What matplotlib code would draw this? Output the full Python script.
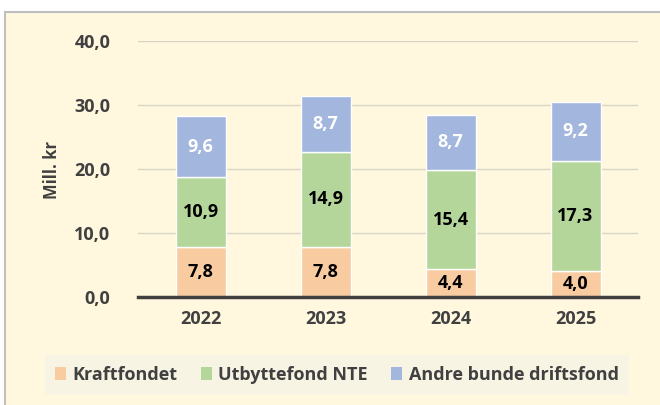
import numpy as np
import matplotlib.pyplot as plt
from matplotlib.patches import Rectangle, Patch

# data
years = ['2022', '2023', '2024', '2025']
kraftfondet = [7.8, 7.8, 4.4, 4.0]
utbytte_nte = [10.9, 14.9, 15.4, 17.3]
andre_fond = [9.6, 8.7, 8.7, 9.2]
series_names = ['Kraftfondet', 'Utbyttefond NTE', 'Andre bunde driftsfond']
yticks = [0, 10, 20, 30, 40]

col_orange = '#F8CBA0'
col_green = '#B5D69A'
col_blue = '#A3B6DE'
txt_col = '#404040'

plt.rcParams['font.family'] = ['Open Sans', 'DejaVu Sans']

fig = plt.figure(figsize=(6.6, 4.05), dpi=100)
fig.patch.set_facecolor('white')

# chart area background with grey border on top and left
bg = Rectangle((5 / 660, -0.1), 1.2, 0.1 + 1 - 12 / 405, transform=fig.transFigure,
               facecolor='#FFF8DE', edgecolor='#BFBFBF', lw=1.5, zorder=-10)
fig.patches.append(bg)

ax = fig.add_axes([138 / 660, 1 - 297 / 405, 500 / 660, 256 / 405])
ax.set_facecolor('none')

x = np.arange(len(years))
w = 0.4
b1 = ax.bar(x, kraftfondet, w, color=col_orange, edgecolor='white', lw=1, zorder=3)
bottom2 = np.array(kraftfondet)
b2 = ax.bar(x, utbytte_nte, w, bottom=bottom2, color=col_green, edgecolor='white', lw=1, zorder=3)
bottom3 = bottom2 + np.array(utbytte_nte)
b3 = ax.bar(x, andre_fond, w, bottom=bottom3, color=col_blue, edgecolor='white', lw=1, zorder=3)

def fmt(v):
    return f'{v:.1f}'.replace('.', ',')

for bars, vals, c in [(b1, kraftfondet, 'black'), (b2, utbytte_nte, 'black'), (b3, andre_fond, 'white')]:
    for rect, v in zip(bars, vals):
        ax.text(rect.get_x() + rect.get_width() / 2, rect.get_y() + rect.get_height() / 2,
                fmt(v), ha='center', va='center', color=c, fontsize=13, fontweight='bold', zorder=4)

ax.set_xlim(-0.5, 3.5)
ax.set_ylim(0, 40)
ax.set_yticks(yticks)
ax.set_yticklabels([fmt(t) for t in yticks])
ax.set_xticks(x)
ax.set_xticklabels(years)
ax.tick_params(axis='both', length=0, labelsize=13, labelcolor=txt_col)
ax.tick_params(axis='y', pad=20)
ax.tick_params(axis='x', pad=9)
for lab in ax.get_xticklabels() + ax.get_yticklabels():
    lab.set_fontweight('bold')

ax.grid(axis='y', color='#D9D5C5', lw=1, zorder=0)
for s in ['top', 'right', 'left']:
    ax.spines[s].set_visible(False)
ax.spines['bottom'].set_color(txt_col)
ax.spines['bottom'].set_linewidth(2.5)
ax.spines['bottom'].set_zorder(5)

fig.text(52 / 660, 1 - 170 / 405, 'Mill. kr', rotation=90, ha='center', va='center',
         fontsize=12, fontweight='bold', color=txt_col)

handles = [Patch(facecolor=c, edgecolor='none') for c in [col_orange, col_green, col_blue]]
leg = fig.legend(handles, series_names, loc='center', bbox_to_anchor=(337 / 660, 1 - 375 / 405),
                 ncol=3, frameon=True, fancybox=False, handlelength=0.6, handleheight=0.7,
                 handletextpad=0.35, columnspacing=1.3, borderpad=0.6,
                 prop={'size': 13, 'weight': 'bold'})
leg.get_frame().set_facecolor('#F7F4E6')
leg.get_frame().set_edgecolor('none')
for t in leg.get_texts():
    t.set_color(txt_col)

fig.savefig('out.png', dpi=100)
